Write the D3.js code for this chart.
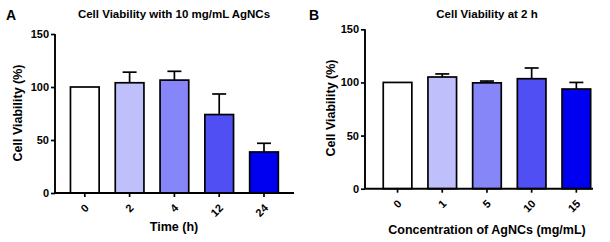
<!DOCTYPE html>
<html>
<head>
<meta charset="utf-8">
<script src="https://cdn.jsdelivr.net/npm/d3@7"></script>
<style>
  body { margin: 0; background: #fff; }
  text { font-family: Arial, "Liberation Sans", sans-serif; font-weight: bold; fill: #000; }
</style>
</head>
<body>
<svg id="chart" width="610" height="242"></svg>
<script>
// Panel A: viability over time at 10 mg/mL
const timeLabels = ["0", "2", "4", "12", "24"];
const timeMeans = [100, 104, 106.5, 74, 38.7];
const timeErrTop = [100, 114, 114.8, 93.4, 46.9];

// Panel B: viability at 2 h over concentration
const concLabels = ["0", "1", "5", "10", "15"];
const concMeans = [100, 105.1, 99.6, 103.5, 93.8];
const concErrTop = [100, 108, 101.3, 113.6, 100];

const barColors = ["#ffffff", "#bfbffb", "#8686f8", "#4f4ff3", "#0000f0"];
const yTicks = [0, 50, 100, 150];

const svg = d3.select("#chart");

function drawPanel(cfg) {
    const g = svg.append("g");

    const x = d3.scaleBand()
        .domain(cfg.labels)
        .range([cfg.bandLeft, cfg.bandRight])
        .paddingInner(0.36)
        .paddingOuter(0.18);
    const y = d3.scaleLinear().domain([0, 150]).range([cfg.yBottom, cfg.yTop]);

    const data = cfg.labels.map((l, i) => ({ label: l, mean: cfg.means[i], top: cfg.errTop[i], color: barColors[i] }));

    // error bars (upper only), drawn behind bars
    const err = g.selectAll("g.err").data(data).join("g").attr("class", "err");
    err.append("line")
        .attr("x1", d => x(d.label) + x.bandwidth() / 2)
        .attr("x2", d => x(d.label) + x.bandwidth() / 2)
        .attr("y1", d => y(d.mean))
        .attr("y2", d => y(d.top))
        .attr("stroke", "#000").attr("stroke-width", 1.7);
    err.filter(d => d.top > d.mean + 0.5).append("line")
        .attr("x1", d => x(d.label) + x.bandwidth() / 2 - 7)
        .attr("x2", d => x(d.label) + x.bandwidth() / 2 + 7)
        .attr("y1", d => y(d.top))
        .attr("y2", d => y(d.top))
        .attr("stroke", "#000").attr("stroke-width", 1.7);

    g.selectAll("rect.bar").data(data).join("rect")
        .attr("class", "bar")
        .attr("x", d => x(d.label))
        .attr("y", d => y(d.mean))
        .attr("width", x.bandwidth())
        .attr("height", d => y(0) - y(d.mean))
        .attr("fill", d => d.color)
        .attr("stroke", "#000")
        .attr("stroke-width", 1.7);

    // y axis
    const yAxis = g.append("g")
        .attr("transform", `translate(${cfg.yAxisX},0)`)
        .call(d3.axisLeft(y).tickValues(yTicks).tickSize(4).tickPadding(2));
    yAxis.select(".domain").attr("stroke-width", 1.9).attr("d", `M-0,${cfg.yTop}V${cfg.yBottom}`);
    yAxis.selectAll(".tick line").attr("stroke-width", 1.7);
    yAxis.selectAll("text").style("font-size", "11px").style("font-family", "Arial, 'Liberation Sans', sans-serif").style("font-weight", "bold");

    // x axis
    const xAxis = g.append("g")
        .attr("transform", `translate(0,${cfg.yBottom})`)
        .call(d3.axisBottom(x).tickSize(4).tickFormat(""));
    xAxis.select(".domain").attr("stroke-width", 1.9).attr("d", `M${cfg.yAxisX},0H${cfg.xAxisEnd}`);
    xAxis.selectAll(".tick line").attr("stroke-width", 1.7);

    g.selectAll("text.xt").data(cfg.labels).join("text")
        .attr("class", "xt")
        .attr("text-anchor", "end")
        .attr("dy", "0.35em")
        .attr("transform", d => `translate(${x(d) + x.bandwidth() / 2 + 2},${cfg.yBottom + 13}) rotate(-45)`)
        .style("font-size", "11px")
        .text(d => d);

    // titles
    g.append("text").attr("x", cfg.titleX).attr("y", 18).attr("text-anchor", "middle")
        .style("font-size", "11.5px").text(cfg.title);
    g.append("text").attr("x", cfg.letterX).attr("y", 20)
        .style("font-size", "14px").text(cfg.letter);
    g.append("text").attr("x", cfg.titleX).attr("y", cfg.xTitleY).attr("text-anchor", "middle")
        .style("font-size", "12.5px").text(cfg.xTitle);
    g.append("text")
        .attr("transform", `translate(${cfg.yTitleX},${cfg.yTitleY}) rotate(-90)`)
        .attr("text-anchor", "middle")
        .style("font-size", "12.5px").text("Cell Viability (%)");
}

drawPanel({
    labels: timeLabels, means: timeMeans, errTop: timeErrTop,
    bandLeft: 62.4, bandRight: 286.4, yAxisX: 55, xAxisEnd: 294,
    yTop: 34, yBottom: 193,
    title: "Cell Viability with 10 mg/mL AgNCs", titleX: 174,
    letter: "A", letterX: 6,
    xTitle: "Time (h)", xTitleY: 231,
    yTitleX: 22, yTitleY: 113
});

drawPanel({
    labels: concLabels, means: concMeans, errTop: concErrTop,
    bandLeft: 375.2, bandRight: 598.7, yAxisX: 365, xAxisEnd: 593,
    yTop: 29.3, yBottom: 188.7,
    title: "Cell Viability at 2 h", titleX: 487,
    letter: "B", letterX: 309,
    xTitle: "Concentration of AgNCs (mg/mL)", xTitleY: 234,
    yTitleX: 335, yTitleY: 108
});
</script>
</body>
</html>
